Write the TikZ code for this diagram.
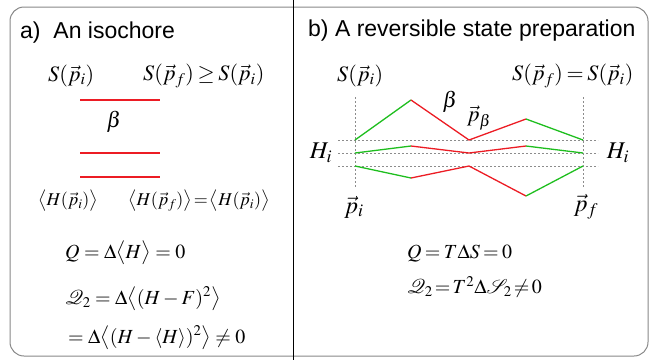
\documentclass[tikz,border=0pt]{standalone}
\usepackage{amsmath}
\usepackage{mathptmx}
\usepackage[no-math]{fontspec}
\setsansfont{Liberation Sans}
\usepackage{tikz}
\usetikzlibrary{positioning}
\definecolor{zzred}{RGB}{236,28,36}
\definecolor{zzgreen}{RGB}{30,190,30}
\definecolor{framegray}{RGB}{135,135,135}
\tikzset{
  ttl/.style={font=\sffamily\fontsize{23}{27}\selectfont, inner sep=0pt},
  eqb/.style={font=\fontsize{24}{28}\selectfont, inner sep=0pt},
  eql/.style={font=\fontsize{22}{26}\selectfont, inner sep=0pt},
  eqn/.style={font=\fontsize{20}{24}\selectfont, inner sep=0pt},
  eqs/.style={font=\fontsize{18}{22}\selectfont, inner sep=0pt},
  lvl/.style={draw=zzred, line width=1.6pt},
  up/.style={draw=zzgreen, line width=1.3pt},
  dn/.style={draw=zzred, line width=1.3pt},
  guide/.style={draw=black!45, line width=0.5pt, dash pattern=on 2pt off 2pt},
}

\begin{document}
\begin{tikzpicture}[x=1pt, y=-1pt]
  \useasboundingbox (0,0) rectangle (655,360);
  \draw[framegray, line width=1pt, rounded corners=14pt] (10,7) rectangle (648,356);
  \draw[line width=1pt] (293,0) -- (293,360);

  \node[ttl, anchor=base west] (tta) at (20,38) {a)\ \ An isochore};
  \node[eql, anchor=west] (sai) at (48,76) {$S(\vec p_i)$};
  \node[eql, anchor=west] (saf) at (143,76) {$\thickmuskip=3mu S(\vec p_f)\geq S(\vec p_i)$};
  \draw[lvl] (80,100) -- (160,100);
  \node[eql] (ba) at (114,122) {$\beta$};
  \draw[lvl] (80,153) -- (160,153);
  \draw[lvl] (80,177) -- (160,177);
  \node[eqs, anchor=west] (hai) at (38,201) {$\big\langle H(\vec p_i)\big\rangle$};
  \node[eqs, anchor=west] (haf) at (128,201) {$\thickmuskip=2mu \big\langle H(\vec p_f)\big\rangle=\big\langle H(\vec p_i)\big\rangle$};
  \node[eqn, anchor=west] (qa) at (65,253) {$Q=\Delta\big\langle H\big\rangle=0$};
  \node[eqn, anchor=west] (qqa) at (65,299) {$\mathcal{Q}_2=\Delta\big\langle(H-F)^2\big\rangle$};
  \node[eqn, anchor=west] (qqb) at (68,338) {$=\Delta\big\langle(H-\langle H\rangle)^2\big\rangle\neq0$};

  \node[ttl, anchor=base west] (ttb) at (308,36) {b) A reversible state preparation};
  \node[eql, anchor=west] (sbi) at (337,76) {$S(\vec p_i)$};
  \node[eql, anchor=west] (sbf) at (512,76) {$\thickmuskip=3mu S(\vec p_f)=S(\vec p_i)$};
  \coordinate (vi) at (355,97);
  \coordinate (vib) at (355,187);
  \coordinate (vf) at (583,97);
  \coordinate (vfb) at (583,187);
  \draw[guide] (vi) -- (vib);
  \draw[guide] (vf) -- (vfb);
  \coordinate (ha) at (338,140);
  \coordinate (hb) at (598,140);
  \coordinate (hc) at (338,153);
  \coordinate (hd) at (598,153);
  \coordinate (he) at (338,166);
  \coordinate (hf) at (598,166);
  \draw[guide] (ha) -- (hb);
  \draw[guide] (hc) -- (hd);
  \draw[guide] (he) -- (hf);
  \coordinate (t0) at (355,140);
  \coordinate (t1) at (411,100);
  \coordinate (t2) at (469,140);
  \coordinate (t3) at (526,119);
  \coordinate (t4) at (583,140);
  \coordinate (m0) at (355,153);
  \coordinate (m1) at (411,146);
  \coordinate (m2) at (469,153);
  \coordinate (m3) at (526,146);
  \coordinate (m4) at (583,153);
  \coordinate (b0) at (355,166);
  \coordinate (b1) at (411,178);
  \coordinate (b2) at (469,166);
  \coordinate (b3) at (526,196);
  \coordinate (b4) at (583,166);
  \draw[up] (t0) -- (t1);
  \draw[dn] (t1) -- (t2) -- (t3);
  \draw[up] (t3) -- (t4);
  \draw[up] (m0) -- (m1);
  \draw[dn] (m1) -- (m2) -- (m3);
  \draw[up] (m3) -- (m4);
  \draw[up] (b0) -- (b1);
  \draw[dn] (b1) -- (b2) -- (b3);
  \draw[up] (b3) -- (b4);
  \node[eql] (bb) at (450,102) {$\beta$};
  \node[eql] (pb) at (479,118) {$\vec p_\beta$};
  \node[eqb] (hil) at (321,153) {$H_i$};
  \node[eqb] (hir) at (618,153) {$H_i$};
  \node[eqb] (pi) at (354,207) {$\vec p_i$};
  \node[eqb] (pf) at (586,207) {$\vec p_f$};
  \node[eqn, anchor=west] (qb) at (407,253) {$\thickmuskip=3mu Q=T\Delta S=0$};
  \node[eqn, anchor=west] (qqc) at (407,287) {$\thickmuskip=2mu \mathcal{Q}_2=T^2\Delta\mathcal{S}_2\neq0$};
\end{tikzpicture}
\end{document}
